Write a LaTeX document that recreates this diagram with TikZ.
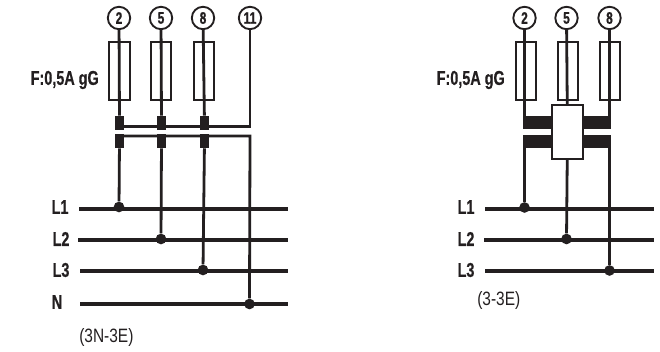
\documentclass[tikz,border=0pt]{standalone}
\usepackage{fontspec}
\setmainfont{Liberation Sans}
\newfontfamily\narrowbold[FakeStretch=0.72,FakeBold=0.6]{Liberation Sans Bold}
\newfontfamily\narrowreg[FakeStretch=0.8]{Liberation Sans}
\definecolor{inkc}{HTML}{231F20}
\tikzset{
  x=0.75pt,y=-0.75pt,
  wire/.style={line width=2.1pt,color=inkc},
  bus/.style={line width=2.6pt,color=inkc,line cap=butt},
  num/.style={circle,draw=inkc,line width=1.4pt,fill=white,minimum size=16.8pt,inner sep=0pt,font=\narrowbold\fontsize{12.5}{12.5}\selectfont,text=inkc},
  fuse/.style={draw=inkc,line width=1.6pt,minimum width=15.5pt,minimum height=43.5pt,inner sep=0pt},
  blk/.style={fill=inkc,draw=none,minimum width=6.8pt,minimum height=10.5pt,inner sep=0pt},
  wideblk/.style={fill=inkc,draw=none,minimum width=22pt,minimum height=10pt,inner sep=0pt},
  whitebox/.style={draw=inkc,line width=1.3pt,fill=white,minimum width=23.5pt,minimum height=40.5pt,inner sep=0pt},
  dot/.style={circle,fill=inkc,draw=none,minimum size=8pt,inner sep=0pt},
  lab/.style={font=\narrowbold\fontsize{15}{15}\selectfont,text=inkc,inner sep=0pt},
  note/.style={font=\narrowreg\fontsize{14.5}{14.5}\selectfont,text=inkc,inner sep=0pt},
}
\begin{document}
\begin{tikzpicture}
\useasboundingbox (0,0) rectangle (660,352);
% ---- left diagram
\node[lab,anchor=east] (fl) at (99,80) {F:0,5A gG};
\coordinate (bl1s) at (79,209); \coordinate (bl1e) at (288,209);
\coordinate (bl2s) at (78,240); \coordinate (bl2e) at (288,240);
\coordinate (bl3s) at (80,271); \coordinate (bl3e) at (288,271);
\coordinate (bns) at (80,304); \coordinate (bne) at (288,304);
\draw[bus] (bl1s) -- (bl1e);
\draw[bus] (bl2s) -- (bl2e);
\draw[bus] (bl3s) -- (bl3e);
\draw[bus] (bns) -- (bne);
\node[lab] (tl1) at (60,207) {L1};
\node[lab] (tl2) at (61,239) {L2};
\node[lab] (tl3) at (61,270) {L3};
\node[lab] (tn) at (57,302) {N};
\node[note,anchor=west] (t3n) at (79,337) {(3N-3E)};
\node[dot] (d1) at (119,207) {};
\node[dot] (d2) at (161,239) {};
\node[dot] (d3) at (203,270) {};
\node[dot] (d4) at (249.5,304) {};
\node[num] (c2) at (119,18) {2};
\node[num] (c5) at (161,18) {5};
\node[num] (c8) at (203,18) {8};
\node[num] (c11) at (250,18) {11};
\node[blk] (u1) at (119.5,123) {};
\node[blk] (u2) at (161.5,123) {};
\node[blk] (u3) at (204.5,123) {};
\node[blk] (v1) at (119.5,141) {};
\node[blk] (v2) at (161.5,141) {};
\node[blk] (v3) at (204.5,141) {};
\draw[wire] (c2) -- (u1);
\draw[wire] (c5) -- (u2);
\draw[wire] (c8) -- (u3);
\draw[wire] (v1) -- (d1);
\draw[wire] (v2) -- (d2);
\draw[wire] (v3) -- (d3);
\coordinate (tc11) at (250,126.4);
\coordinate (bc11) at (250,136);
\draw[wire,line cap=rect] (c11) -- (tc11) -- (u1.center |- tc11);
\draw[wire] (v1.center |- bc11) -- (bc11) -- (d4);
\node[fuse] (f1) at (119.5,71) {};
\node[fuse] (f2) at (161,71) {};
\node[fuse] (f3) at (204,71) {};
% ---- right diagram
\node[lab,anchor=east] (fr) at (505,80) {F:0,5A gG};
\coordinate (rl1s) at (485,209); \coordinate (rl1e) at (654,209);
\coordinate (rl2s) at (484,240); \coordinate (rl2e) at (654,240);
\coordinate (rl3s) at (485,271); \coordinate (rl3e) at (654,271);
\draw[bus] (rl1s) -- (rl1e);
\draw[bus] (rl2s) -- (rl2e);
\draw[bus] (rl3s) -- (rl3e);
\node[lab] (rt1) at (466,207) {L1};
\node[lab] (rt2) at (466,239) {L2};
\node[lab] (rt3) at (466,270) {L3};
\node[note,anchor=west] (t3e) at (477,300) {(3-3E)};
\node[dot] (e1) at (524.5,207.5) {};
\node[dot] (e2) at (566.5,239) {};
\node[dot] (e3) at (609.5,270.5) {};
\node[num] (r2) at (524.5,18) {2};
\node[num] (r5) at (566.5,18) {5};
\node[num] (r8) at (609.5,18) {8};
\node[wideblk] (ba) at (538,122.5) {};
\node[wideblk] (bb) at (596.5,122.5) {};
\node[wideblk] (bc) at (538,141.5) {};
\node[wideblk] (bd) at (596.5,141.5) {};
\node[whitebox] (wb) at (567.5,132) {};
\coordinate (jl) at (524.5,122);
\coordinate (jr) at (609.5,122);
\coordinate (kl) at (524.5,141);
\coordinate (kr) at (609.5,141);
\draw[wire] (r2) -- (jl);
\draw[wire] (r5) -- (wb);
\draw[wire] (r8) -- (jr);
\draw[wire] (kl) -- (e1);
\draw[wire] (wb) -- (e2);
\draw[wire] (kr) -- (e3);
\node[fuse] (g1) at (526,71) {};
\node[fuse] (g2) at (568,71) {};
\node[fuse] (g3) at (610,71) {};
\end{tikzpicture}
\end{document}
